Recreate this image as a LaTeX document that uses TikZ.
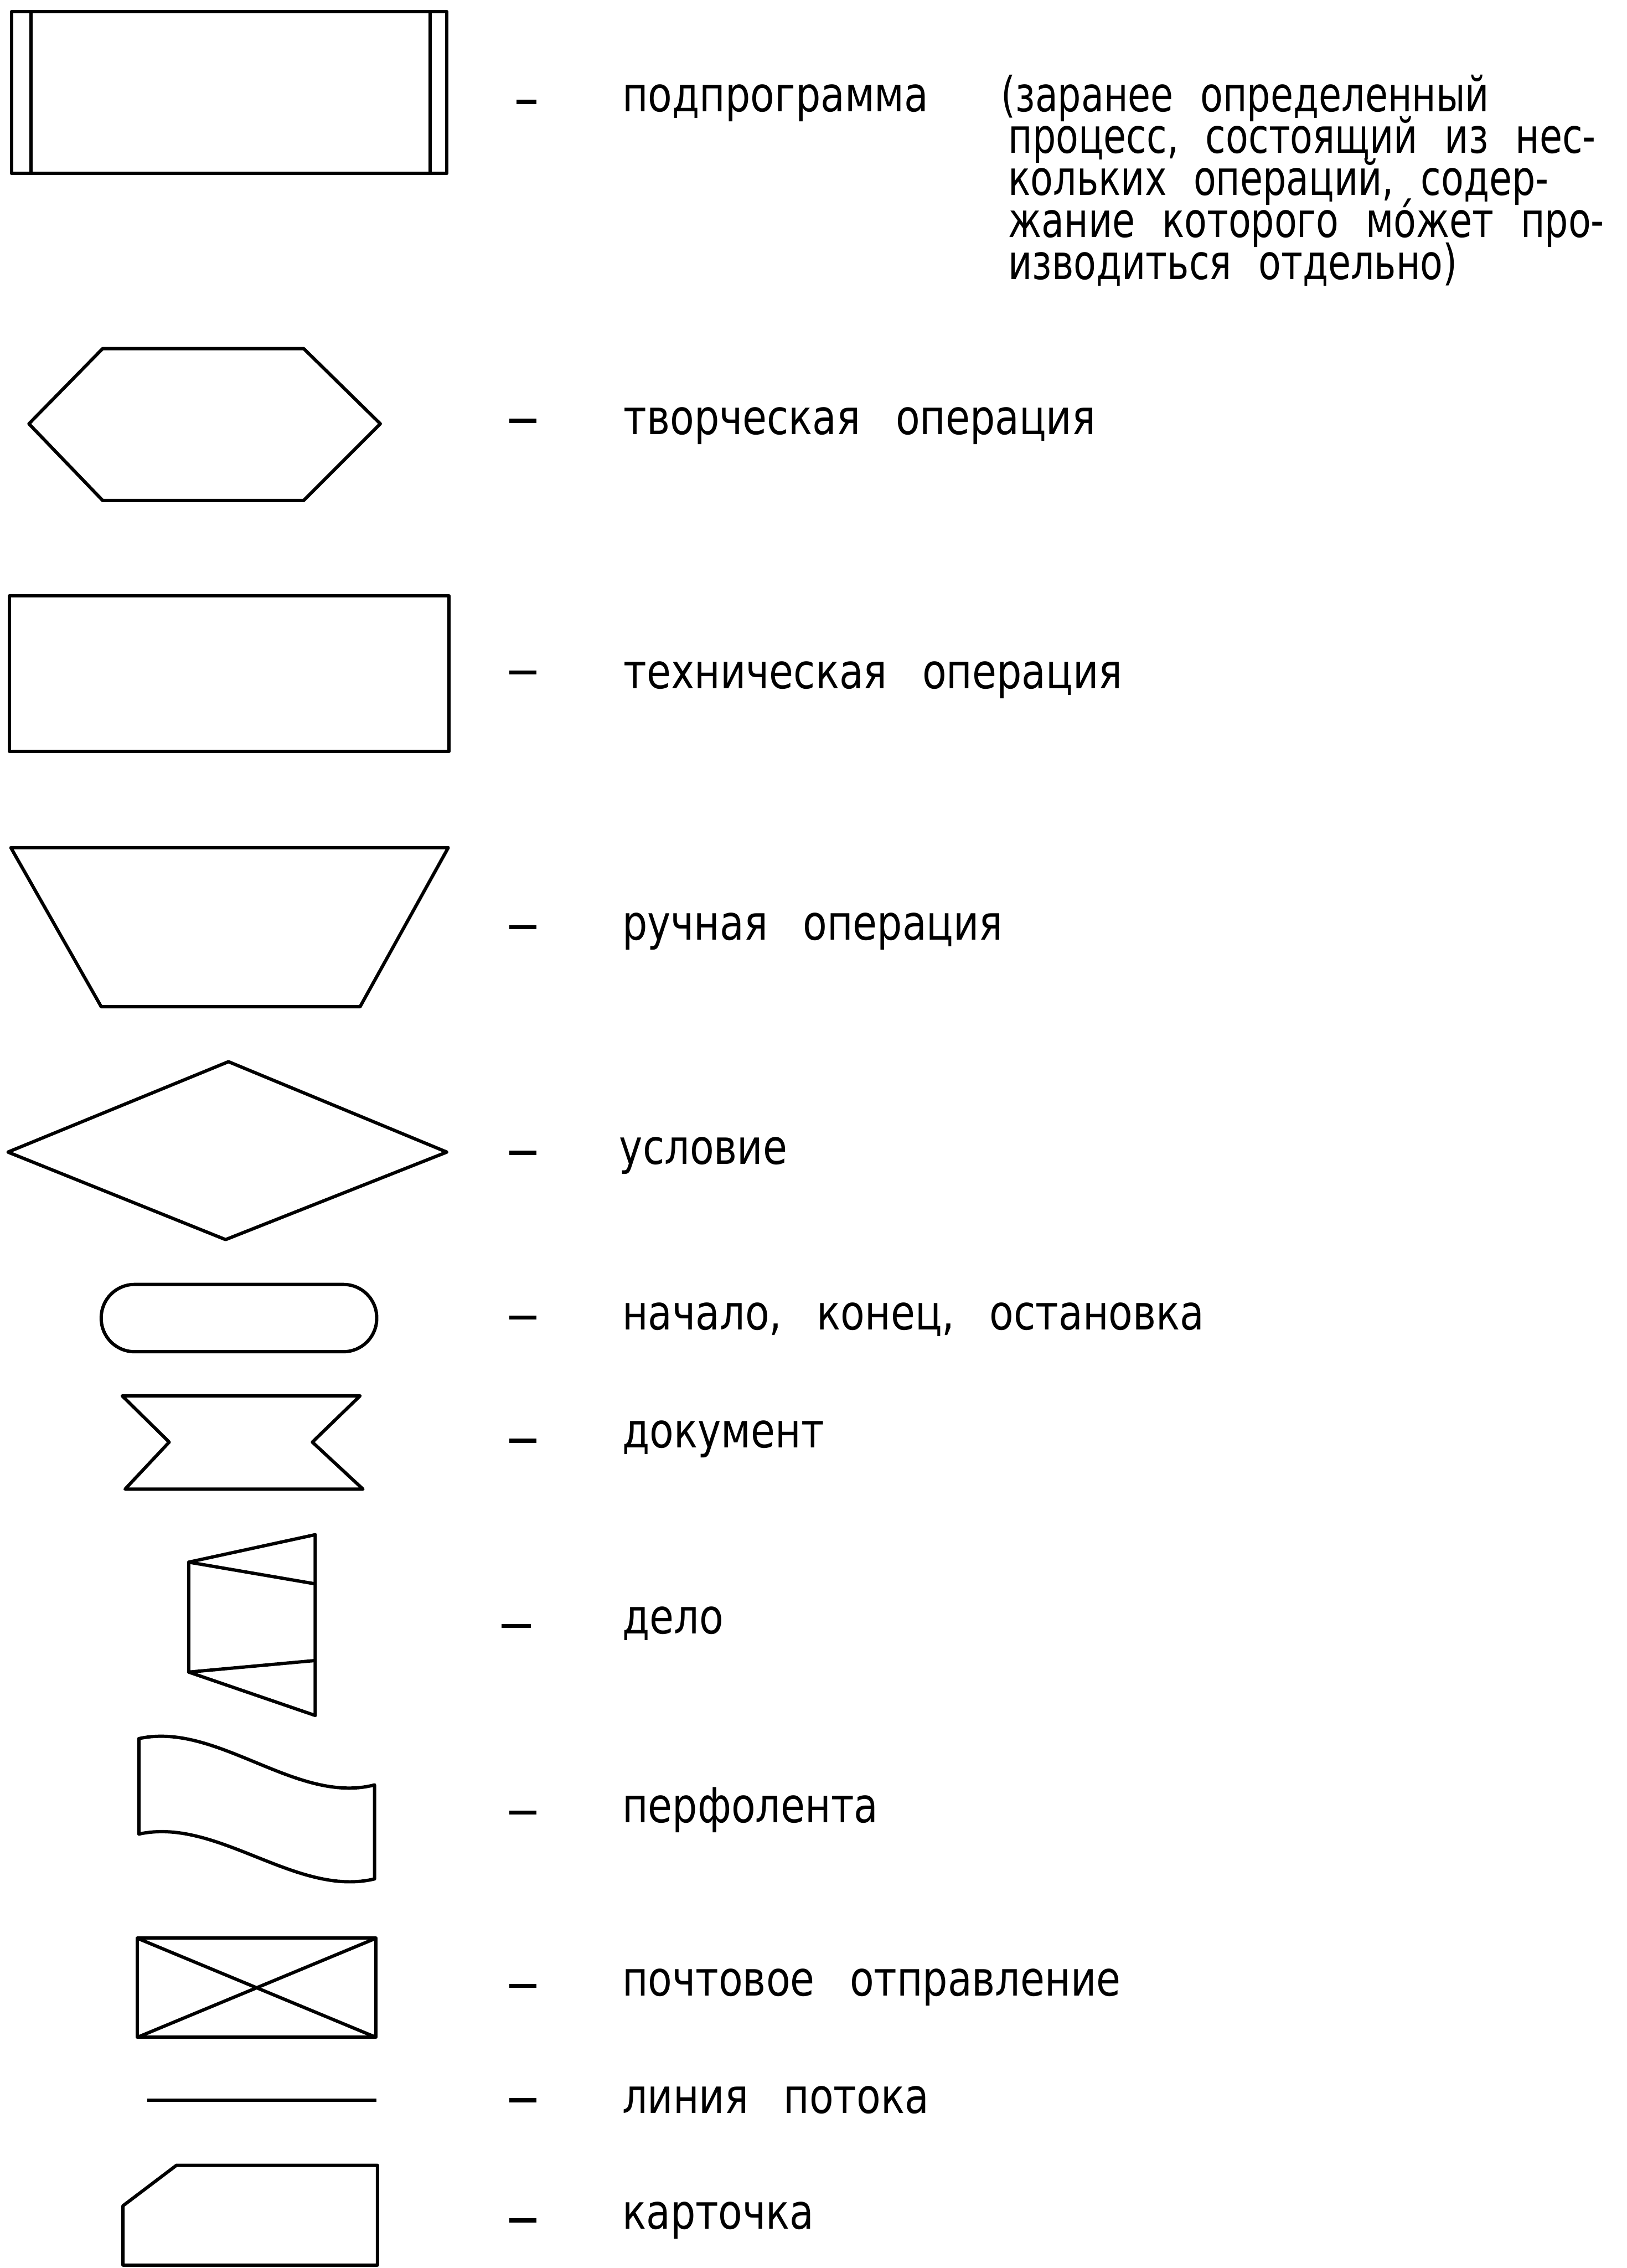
\documentclass[tikz,border=0pt]{standalone}
\usepackage{fontspec}
\setmainfont{DejaVu Sans Condensed}[FakeStretch=0.91, WordSpace=2.8]
\newfontfamily\notefont{DejaVu Sans Condensed}[FakeStretch=0.85, WordSpace=2.3]
\usetikzlibrary{positioning}
\tikzset{
	symb/.style={draw=black, line width=1.3pt, line join=round},
	lbl/.style={anchor=base west, inner sep=0pt, text height=0.6em, text depth=0.12em,
		font=\fontsize{19}{16}\selectfont},
	notelbl/.style={lbl, font=\fontsize{19}{16}\notefont},
	dashmark/.style={draw=black, line width=1.6pt},
}
\begin{document}
\begin{tikzpicture}[x=0.02cm, y=-0.02cm]
	\useasboundingbox (0,0) rectangle (1125,1568);
	% symbols
	\draw[symb] (8,8) rectangle (309,120);
	\draw[symb] (21.5,8) -- (21.5,120) (297.5,8) -- (297.5,120);
	\draw[symb] (20,293) -- (71,241) -- (210,241) -- (263,293) -- (210,346) -- (71,346) -- cycle;
	\draw[symb] (6.5,412) rectangle (310.5,519.5);
	\draw[symb] (7.5,586) -- (310,586) -- (249,696) -- (70,696) -- cycle;
	\draw[symb] (5.5,796.5) -- (158,734) -- (309,796.5) -- (156,857) -- cycle;
	\draw[symb, rounded corners=0.46cm] (70,888) rectangle (260.5,934.5);
	\draw[symb] (84.5,965) -- (249,965) -- (216,997) -- (251,1029.5) -- (86.5,1029.5) -- (117,997) -- cycle;
	\draw[symb] (130.5,1080) -- (218,1061) -- (218,1186) -- (130.5,1156) -- cycle;
	\draw[symb] (130.5,1080) -- (218,1095) (130.5,1156) -- (218,1148);
	\draw[symb] (96,1202) .. controls (150,1190) and (205,1248) .. (259,1234) -- (259,1299)
		.. controls (205,1312) and (150,1256) .. (96,1268) -- cycle;
	\draw[symb] (95,1340) rectangle (260,1408.5);
	\draw[symb] (95,1340) -- (260,1408.5) (95,1408.5) -- (260,1340);
	\draw[symb] (102,1452) -- (260.5,1452);
	\draw[symb] (122,1497) -- (261,1497) -- (261,1566) -- (85,1566) -- (85,1525) -- cycle;
	% dashes
	\draw[dashmark] (357,70.5) -- (371,70.5);
	\foreach \y in {291,465,641,797,911,996,1253,1373,1452,1535}
		\draw[dashmark] (352,\y) -- (371,\y);
	\draw[dashmark] (347,1124) -- (367,1124);
	% labels
	\node[lbl] (subprog) at (430,77) {подпрограмма};
	\node[notelbl] (note1) at (692,77) {(заранее определенный};
	\node[notelbl] (note2) at (697,106) {процесс, состоящий из нес-};
	\node[notelbl] (note3) at (697,135) {кольких операций, содер-};
	\node[notelbl] (note4) at (697,164) {жание которого мо́жет про-};
	\node[notelbl] (note5) at (697,193) {изводиться отдельно)};
	\node[lbl] (creat) at (431,300.5) {творческая операция};
	\node[lbl] (techn) at (431,476) {техническая операция};
	\node[lbl] (manual) at (430,650) {ручная операция};
	\node[lbl] (cond) at (428,805) {условие};
	\node[lbl] (term) at (430,919.5) {начало, конец, остановка};
	\node[lbl] (doc) at (430,1001) {документ};
	\node[lbl] (file) at (430,1129.5) {дело};
	\node[lbl] (tape) at (430,1260) {перфолента};
	\node[lbl] (mail) at (430,1380) {почтовое отправление};
	\node[lbl] (flow) at (430,1461) {линия потока};
	\node[lbl] (card) at (430,1541) {карточка};
\end{tikzpicture}
\end{document}
